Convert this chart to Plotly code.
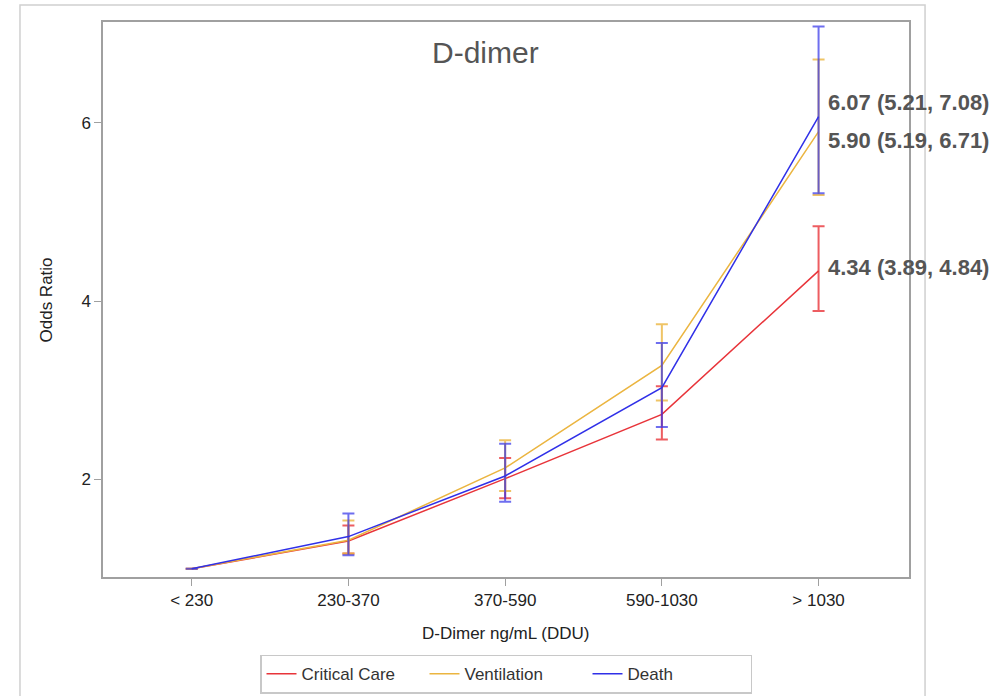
import plotly.graph_objects as go

categories = ["< 230", "230-370", "370-590", "590-1030", "> 1030"]

cc_or = [1.0, 1.31, 2.01, 2.73, 4.34]
cc_lo = [None, 1.17, 1.79, 2.45, 3.89]
cc_hi = [None, 1.485, 2.24, 3.045, 4.84]

vent_or = [1.0, 1.32, 2.13, 3.28, 5.90]
vent_lo = [None, 1.17, 1.87, 2.885, 5.19]
vent_hi = [None, 1.54, 2.44, 3.74, 6.71]

death_or = [1.0, 1.36, 2.04, 3.03, 6.07]
death_lo = [None, 1.15, 1.75, 2.59, 5.21]
death_hi = [None, 1.62, 2.40, 3.53, 7.08]

series = [
    ("Critical Care", cc_or, cc_lo, cc_hi, "#E8343A", "rgba(232,52,58,0.8)"),
    ("Ventilation", vent_or, vent_lo, vent_hi, "#EBB540", "rgba(235,181,64,0.8)"),
    ("Death", death_or, death_lo, death_hi, "#3030E8", "rgba(48,48,232,0.7)"),
]

labels = [
    ("6.07 (5.21, 7.08)", death_or[-1], 14),
    ("5.90 (5.19, 6.71)", vent_or[-1], -9),
    ("4.34 (3.89, 4.84)", cc_or[-1], 3),
]

FONT = "Liberation Sans, Arial"

fig = go.Figure()
xi = list(range(len(categories)))
for name, orv, lo, hi, col, ecol in series:
    plus = [None if h is None else h - o for h, o in zip(hi, orv)]
    minus = [None if l is None else o - l for l, o in zip(lo, orv)]
    fig.add_trace(go.Scatter(
        x=xi, y=orv, mode="lines", name=name,
        line=dict(color=col, width=1.5),
        error_y=dict(type="data", symmetric=False, array=plus, arrayminus=minus,
                     color=ecol, thickness=2, width=6),
    ))

for text, yv, ys in labels:
    fig.add_annotation(x=xi[-1], y=yv, text="<b>" + text + "</b>", showarrow=False,
                       xanchor="left", yanchor="middle", xshift=7, yshift=ys,
                       font=dict(family=FONT, size=22, color="#555555"))

fig.add_annotation(x=0.475, y=0.945, xref="paper", yref="paper", text="D-dimer",
                   showarrow=False, xanchor="center", yanchor="middle",
                   font=dict(family=FONT, size=30, color="#555555"))

fig.add_annotation(x=-0.0695, y=0.5, xref="paper", yref="paper", text="Odds Ratio",
                   showarrow=False, xanchor="center", yanchor="middle", textangle=-90,
                   font=dict(family=FONT, size=17, color="#222222"))

fig.add_annotation(x=0.5, y=-0.101, xref="paper", yref="paper", text="D-Dimer ng/mL (DDU)",
                   showarrow=False, xanchor="center", yanchor="middle",
                   font=dict(family=FONT, size=17, color="#222222"))

# outer frame
fig.add_shape(type="rect", xref="paper", yref="paper", x0=-0.103, x1=1.0199,
              y0=-0.4, y1=1.0306, line=dict(color="#D0D0D0", width=1.5), layer="below")

fig.update_layout(
    width=999, height=696,
    margin=dict(l=103, r=90, t=22, b=119, autoexpand=False),
    paper_bgcolor="white", plot_bgcolor="white",
    font=dict(family=FONT, size=17, color="#222222"),
    showlegend=True,
    legend=dict(orientation="h", x=0.5, xanchor="center", y=-0.14, yanchor="top",
                bordercolor="#C8C8C8", borderwidth=1.5, font=dict(size=17, color="#333333"),
                entrywidth=118, tracegroupgap=0),
    xaxis=dict(tickmode="array", tickvals=xi, ticktext=categories,
               range=[-0.566, 4.577], showgrid=False, zeroline=False,
               showline=True, mirror=True, linecolor="#A0A0A0", linewidth=1.5,
               ticks="outside", ticklen=7, tickcolor="#A0A0A0",
               tickfont=dict(size=17, color="#222222")),
    yaxis=dict(range=[0.907, 7.13], tickvals=[2, 4, 6], showgrid=False, zeroline=False,
               showline=True, mirror=True, linecolor="#A0A0A0", linewidth=1.5,
               ticks="outside", ticklen=7, tickcolor="#A0A0A0",
               tickfont=dict(size=17, color="#222222")),
)

fig.write_html("out.html")
